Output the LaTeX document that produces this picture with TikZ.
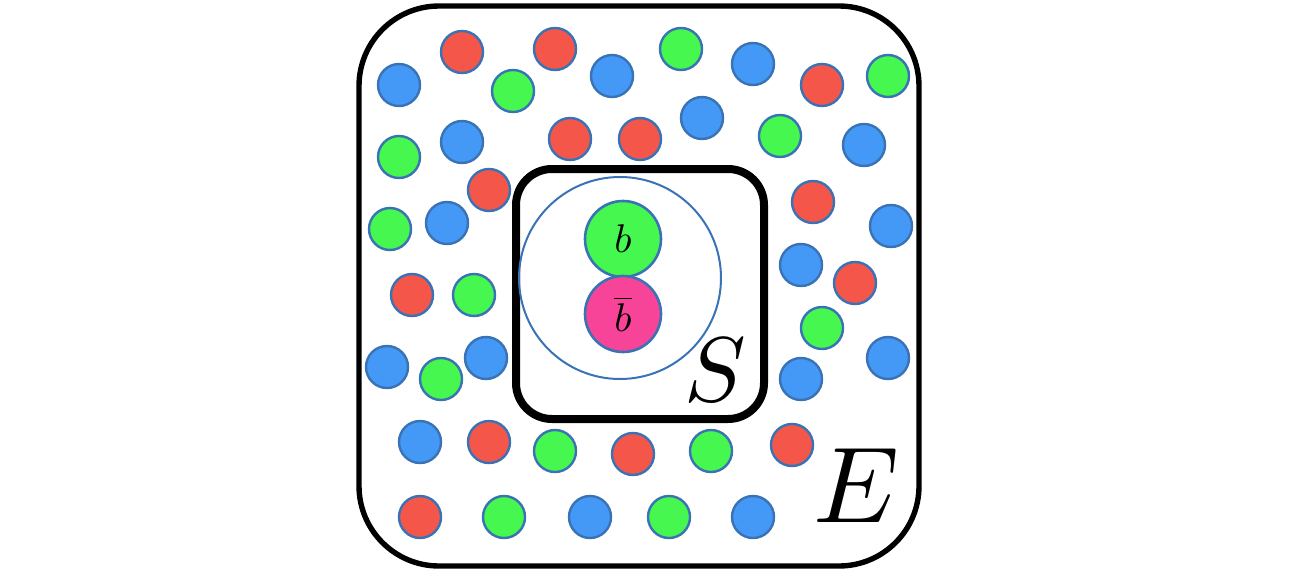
\documentclass[tikz,border=0pt]{standalone}
\usepackage{tikz}
\usetikzlibrary{positioning}

\definecolor{ballblue}{HTML}{4499F7}
\definecolor{ballred}{HTML}{F5564A}
\definecolor{ballgreen}{HTML}{45F74F}
\definecolor{ballpink}{HTML}{F84498}
\definecolor{rimblue}{HTML}{3A73B5}

\begin{document}
\begin{tikzpicture}[
  x=0.5pt, y=-0.5pt,
  ball/.style={circle, draw=rimblue, line width=1.2pt, minimum size=21pt, inner sep=0pt},
  quark/.style={circle, draw=rimblue, line width=1.3pt, minimum size=38pt, inner sep=0pt},
  region/.style={draw=black, rounded corners},
  tag/.style={inner sep=0pt}
]
\useasboundingbox (0,0) rectangle (1300,573);
% environment box
\draw[region, line width=2.7pt, rounded corners=40pt] (359,6) rectangle (919,566);
% system box
\draw[region, line width=4pt, rounded corners=18pt] (516,169) rectangle (764,419);

% surrounding particles
\foreach \x/\y/\c [count=\i] in {
  399/85/ballblue, 462/52/ballred, 513/91/ballgreen, 555/49/ballred, 612/76/ballblue,
  681/49/ballgreen, 753/64/ballblue, 822/85/ballred, 888/76/ballgreen,
  399/157/ballgreen, 462/142/ballblue, 570/139/ballred, 640/139/ballred, 702/118/ballblue,
  780/136/ballgreen, 864/145/ballblue,
  489/190/ballred, 390/229/ballgreen, 447/223/ballblue, 813/202/ballred, 891/226/ballblue,
  412/295/ballred, 474/295/ballgreen, 801/265/ballblue, 855/283/ballred, 822/328/ballgreen,
  387/367/ballblue, 441/379/ballgreen, 486/358/ballblue, 801/379/ballblue, 888/358/ballblue,
  420/442/ballblue, 489/442/ballred, 555/451/ballgreen, 633/454/ballred, 711/451/ballgreen, 792/445/ballred,
  420/517/ballred, 504/517/ballgreen, 590/517/ballblue, 669/517/ballgreen, 753/517/ballblue}
  \node[ball, fill=\c] (p\i) at (\x,\y) {};

% the pair
\node[circle, draw=rimblue, line width=1pt, minimum size=101pt, inner sep=0pt] (pair) at (620,278) {};
\node[quark, fill=ballgreen] (b) at (623,239) {};
\node[quark, fill=ballpink] (bbar) at (623,314) {};
\node[tag, scale=2] (blabel) at (b) {$b$};
\node[tag, scale=2] (bbarlabel) at (bbar) {$\overline{b}$};

% labels
\node[tag, scale=4.6] (S) at (715,370) {$S$};
\node[tag, scale=5.4] (E) at (856,486) {$E$};
\end{tikzpicture}
\end{document}
